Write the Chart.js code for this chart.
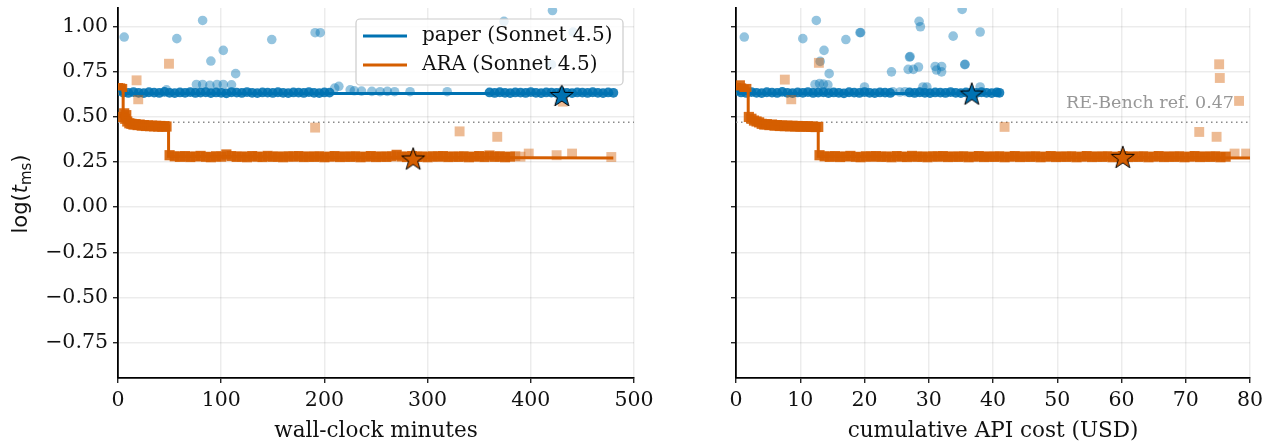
<!DOCTYPE html>
<html><head><meta charset="utf-8">
<script src="https://cdn.jsdelivr.net/npm/chart.js@4/dist/chart.umd.min.js"></script>
<style>
html,body{margin:0;padding:0;background:#fff;}
#wrap{position:relative;width:1269px;height:443px;overflow:hidden;}
#c1{position:absolute;left:0;top:0;}
#c2{position:absolute;left:670px;top:0;}
</style></head>
<body><div id="wrap"><canvas id="c1" width="670" height="443"></canvas><canvas id="c2" width="599" height="443"></canvas></div>
<script>
// ---------- data ----------
const Y_TICKS = [-0.75,-0.5,-0.25,0,0.25,0.5,0.75,1.0];
const X_TICKS_MIN = [0,100,200,300,400,500];
const X_TICKS_USD = [0,10,20,30,40,50,60,70,80];
const Y_RANGE = [-0.947, 1.104];
const REF_VALUE = 0.47;
const SERIES_NAMES = ['paper (Sonnet 4.5)','ARA (Sonnet 4.5)'];

// wall-clock minutes panel: paper (blue) evaluations
const MIN_PAPER_DENSE = [[0,0.645],[5,0.636],[10,0.633],[15,0.638],[20,0.634],[25,0.632],[30,0.637],[35,0.635],[40,0.633],[45,0.639],[50,0.634],[55,0.632],[60,0.636],[65,0.634],[70,0.638],[75,0.633],[80,0.635],[85,0.637],[90,0.632],[95,0.636],[100,0.634],[105,0.631],[110,0.637],[115,0.635],[120,0.633],[125,0.638],[130,0.634],[135,0.632],[140,0.636],[145,0.635],[150,0.633],[155,0.637],[160,0.634],[165,0.632],[170,0.636],[175,0.635],[180,0.633],[185,0.638],[190,0.634],[195,0.632],[200,0.636],[205,0.635],
[360,0.636],[365,0.633],[370,0.637],[375,0.634],[380,0.632],[385,0.636],[390,0.635],[395,0.633],[400,0.638],[405,0.634],[410,0.632],[415,0.636],[420,0.635],[425,0.633],[430,0.637],[435,0.634],[440,0.632],[445,0.636],[450,0.635],[455,0.633],[460,0.637],[465,0.634],[470,0.632],[475,0.636],[480,0.634]];
const MIN_PAPER_SPARSE = [[6,0.943],[57,0.934],[82,1.035],[90,0.81],[102,0.869],[114,0.74],[149,0.929],[191,0.967],[196,0.967],[374,1.03],[421,1.09],[420,0.79],[441,0.97],
[47,0.65],[76,0.68],[82,0.68],[89,0.675],[96,0.68],[102,0.68],[110,0.678],[210,0.66],[214,0.67],[225,0.65],[229,0.645],[236,0.643],[246,0.642],[254,0.64],[261,0.642],[268,0.64],[283,0.64],[319,0.64]];
const MIN_PAPER_BEST = [[0,0.645],[2,0.645],[2,0.63],[480,0.63]];
const MIN_PAPER_STAR = [[430,0.622]];

// wall-clock minutes panel: ARA (orange) evaluations
const MIN_ARA_DENSE = [[0,0.66],[1,0.65],[2,0.658],[3,0.652],[4,0.655],[6,0.52],[8,0.51],
[5,0.50],[7,0.49],[9,0.475],[11,0.465],[13,0.462],[15,0.458],[17,0.46],[19,0.455],[21,0.458],[23,0.452],[25,0.455],[27,0.45],[29,0.453],[31,0.449],[33,0.452],[35,0.448],[37,0.451],[39,0.447],[41,0.45],[43,0.446],[45,0.449],[47,0.447],
[50,0.288],[55,0.282],[60,0.279],[65,0.283],[70,0.278],[75,0.281],[80,0.284],[85,0.279],[90,0.277],[95,0.282],[100,0.28],[105,0.292],[110,0.283],[115,0.279],[120,0.281],[125,0.277],[130,0.283],[135,0.28],[140,0.278],[145,0.284],[150,0.279],[155,0.281],[160,0.277],[165,0.282],[170,0.28],[175,0.283],[180,0.278],[185,0.281],[190,0.279],[195,0.282],[200,0.277],[205,0.28],[210,0.283],[215,0.278],[220,0.281],[225,0.279],[230,0.282],[235,0.277],[240,0.28],[245,0.283],[250,0.278],[255,0.281],[260,0.279],[265,0.282],[270,0.29],[275,0.281],[280,0.278],[285,0.283],[290,0.279],[295,0.281],[300,0.277],[305,0.282],[310,0.28],[315,0.283],[320,0.278],[325,0.281],[330,0.279],[335,0.282],[340,0.277],[345,0.28],[350,0.283],[355,0.278],[360,0.286],[365,0.279],[370,0.282],[375,0.277],[380,0.28]];
const MIN_ARA_SPARSE = [[385,0.283],[390,0.28],[398,0.297],[425,0.288],[440,0.297],[478,0.278],
[49.4,0.795],[18,0.703],[19.6,0.598],[191,0.441],[331,0.42],[367.5,0.39],[431,0.585]];
const MIN_ARA_BEST = [[0,0.655],[5,0.655],[5,0.49],[8,0.475],[12,0.462],[25,0.455],[49,0.45],[49,0.282],[150,0.278],[480,0.272]];
const MIN_ARA_STAR = [[286,0.27]];

// cumulative API cost panel: paper (blue)
const USD_PAPER_DENSE = [[0,0.645],[0.8,0.636],[1.6,0.633],[2.4,0.638],[3.2,0.634],[4.0,0.632],[4.8,0.637],[5.6,0.635],[6.4,0.633],[7.2,0.639],[8.0,0.634],[8.8,0.632],[9.6,0.636],[10.4,0.634],[11.2,0.638],[12.0,0.633],[12.8,0.635],[13.6,0.637],[14.4,0.632],[15.2,0.636],[16.0,0.634],[16.8,0.631],[17.6,0.637],[18.4,0.635],[19.2,0.633],[20.0,0.638],[20.8,0.634],[21.6,0.632],[22.4,0.636],[23.2,0.635],[24.0,0.633],
[27.0,0.636],[27.8,0.633],[28.6,0.637],[29.4,0.634],[30.2,0.632],[31.0,0.636],[31.8,0.635],[32.6,0.633],[33.4,0.638],[34.2,0.634],[35.0,0.632],[35.8,0.636],[36.6,0.635],[37.4,0.633],[38.2,0.637],[39.0,0.634],[39.8,0.632],[40.6,0.636],[41.0,0.634]];
const USD_PAPER_SPARSE = [[1.29,0.943],[10.4,0.934],[12.5,1.035],[13.7,0.869],[13.1,0.808],[14.5,0.74],[17.1,0.929],[19.3,0.967],[19.4,0.968],[24.2,0.75],[27,0.832],[27.1,0.835],[26.8,0.764],[27.6,0.764],[28.4,0.777],[28.5,1.03],[28.7,1.0],[31,0.78],[32,0.78],[32,0.75],[31.2,0.76],[33.8,0.948],[35.2,1.096],[35.6,0.79],[35.65,0.792],[38,0.971],
[12.3,0.68],[13.0,0.685],[13.6,0.682],[14.3,0.678],[20.0,0.666],[24.4,0.64],[25.5,0.638],[26.3,0.64],[29.1,0.666],[29.7,0.666],[38,0.666]];
const USD_PAPER_BEST = [[0,0.645],[0.3,0.645],[0.3,0.63],[41,0.63]];
const USD_PAPER_STAR = [[36.7,0.63]];

// cumulative API cost panel: ARA (orange)
const USD_ARA_DENSE = [[0,0.66],[0.4,0.652],[0.6,0.675],[0.8,0.658],[1.2,0.65],[1.6,0.655],[2.0,0.5],[2.4,0.49],[2.8,0.48],[3.2,0.475],[3.6,0.47],
[4.0,0.462],[4.4,0.458],[4.8,0.46],[5.2,0.455],[5.6,0.458],[6.0,0.452],[6.4,0.455],[6.8,0.45],[7.2,0.453],[7.6,0.449],[8.0,0.452],[8.4,0.448],[8.8,0.451],[9.2,0.447],[9.6,0.45],[10.0,0.446],[10.4,0.449],[10.8,0.447],[11.2,0.448],[11.6,0.445],[12.0,0.447],[12.4,0.444],[12.8,0.445],
[13.0,0.288],[13.8,0.282],[14.6,0.279],[15.4,0.283],[16.2,0.278],[17.0,0.281],[17.8,0.284],[18.6,0.279],[19.4,0.277],[20.2,0.282],[21.0,0.28],[21.8,0.283],[22.6,0.279],[23.4,0.281],[24.2,0.277],[25.0,0.283],[25.8,0.28],[26.6,0.278],[27.4,0.284],[28.2,0.279],[29.0,0.281],[29.8,0.277],[30.6,0.282],[31.4,0.28],[32.2,0.283],[33.0,0.278],[33.8,0.281],[34.6,0.279],[35.4,0.282],[36.2,0.277],[37.0,0.28],[37.8,0.283],[38.6,0.278],[39.4,0.281],[40.2,0.279],[41.0,0.282],[41.8,0.277],[42.6,0.28],[43.4,0.283],[44.2,0.278],[45.0,0.281],[45.8,0.279],[46.6,0.282],[47.4,0.277],[48.2,0.28],[49.0,0.283],[49.8,0.278],[50.6,0.281],[51.4,0.279],[52.2,0.282],[53.0,0.277],[53.8,0.28],[54.6,0.283],[55.4,0.278],[56.2,0.281],[57.0,0.279],[57.8,0.282],[58.6,0.277],[59.4,0.28],[60.2,0.283],[61.0,0.278],[61.8,0.281],[62.6,0.279],[63.4,0.282],[64.2,0.277],[65.0,0.28],[65.8,0.283],[66.6,0.278],[67.4,0.281],[68.2,0.279],[69.0,0.282],[69.8,0.277],[70.6,0.28],[71.4,0.283],[72.2,0.278],[73.0,0.281],[73.8,0.279],[74.6,0.282],[75.4,0.277],[76.2,0.28]];
const USD_ARA_SPARSE = [[77.6,0.297],[79.4,0.297],
[7.6,0.707],[8.6,0.598],[12.9,0.80],[41.8,0.445],[75.2,0.792],[75.3,0.716],[78.3,0.589],[72.1,0.417],[74.8,0.39]];
const USD_ARA_BEST = [[0,0.655],[1.9,0.655],[1.9,0.49],[3.5,0.47],[6,0.46],[12.8,0.45],[12.8,0.282],[40,0.278],[80,0.272]];
const USD_ARA_STAR = [[60.2,0.279]];

// ---------- styling ----------
const BLUE = '#0072B2', ORANGE = '#D55E00';
const blueA = a => `rgba(0,114,178,${a})`;
const orangeA = a => `rgba(213,94,0,${a})`;
const SERIF = '"DejaVu Serif"';

function makeStar(fill, R){
  const c = document.createElement('canvas');
  const s = Math.ceil(2*R+4); c.width = s; c.height = s;
  const g = c.getContext('2d');
  g.translate(s/2, s/2 + R*0.1);
  g.beginPath();
  for (let i=0;i<10;i++){
    const r = i%2===0 ? R : R*0.4;
    const a = -Math.PI/2 + i*Math.PI/5;
    const px = r*Math.cos(a), py = r*Math.sin(a);
    i===0 ? g.moveTo(px,py) : g.lineTo(px,py);
  }
  g.closePath();
  g.fillStyle = fill; g.fill();
  g.lineWidth = 1; g.strokeStyle = '#000'; g.stroke();
  return c;
}
const STAR_BLUE = makeStar(BLUE, 12);
const STAR_ORANGE = makeStar(ORANGE, 12);

const pts = arr => arr.map(([x,y]) => ({x, y}));

function datasets(pDense, pSparse, pBest, pStar, aDense, aSparse, aBest, aStar, xMax){
  return [
    {data: pts([[0,REF_VALUE],[xMax,REF_VALUE]]), showLine:true, pointRadius:0, borderColor:'#8a8a8a', borderWidth:1.5, borderDash:[1.5,3.5], order:9, clip:0},
    {data: pts(pDense), pointStyle:'circle', pointRadius:4.9, backgroundColor:blueA(0.88), borderWidth:0, order:6, clip:0},
    {data: pts(pSparse), pointStyle:'circle', pointRadius:4.8, backgroundColor:blueA(0.42), borderWidth:0, order:5, clip:0},
    {data: pts(aDense), pointStyle:'rect', pointRadius:7.2, backgroundColor:orangeA(0.9), borderWidth:0, order:4, clip:0},
    {data: pts(aSparse), pointStyle:'rect', pointRadius:7, backgroundColor:orangeA(0.42), borderWidth:0, order:3, clip:0},
    {data: pts(pBest), showLine:true, pointRadius:0, borderColor:BLUE, borderWidth:3, order:2, clip:0},
    {data: pts(aBest), showLine:true, pointRadius:0, borderColor:ORANGE, borderWidth:3, order:1, clip:0},
    {data: pts(pStar), pointStyle:STAR_BLUE, pointRadius:12, order:0, clip:false},
    {data: pts(aStar), pointStyle:STAR_ORANGE, pointRadius:12, order:0, clip:false}
  ];
}

const fmtY = v => (v<0?'\u2212':'') + Math.abs(v).toFixed(2);
const zeroPad = s => { s.paddingTop = 0; s.paddingBottom = 0; s.paddingLeft = 0; s.paddingRight = 0; };

function scales(xTicks, xMax, yWidth, showY){
  const grid = {color:'rgba(0,0,0,0.075)', lineWidth:1.5, tickColor:'#000', tickLength:5, tickWidth:1.2};
  return {
    x: {type:'linear', min:0, max:xMax,
      afterBuildTicks: s => { s.ticks = xTicks.map(v => ({value:v})); },
      afterFit: s => { s.height = 65; zeroPad(s); },
      grid, border:{color:'#000', width:1.8},
      ticks:{font:{family:SERIF, size:20.5}, color:'#111', padding:5, maxRotation:0, autoSkip:false, callback: v => String(v)}},
    y: {type:'linear', min:Y_RANGE[0], max:Y_RANGE[1],
      afterBuildTicks: s => { s.ticks = Y_TICKS.map(v => ({value:v})); },
      afterFit: s => { s.width = yWidth; zeroPad(s); },
      grid, border:{color:'#000', width:1.8},
      ticks:{font:{family:SERIF, size:20.5}, color:'#111', padding:5, autoSkip:false, callback: v => showY ? fmtY(v) : ''}}
  };
}

function drawXTitle(chart, text){
  const ctx = chart.ctx, a = chart.chartArea;
  ctx.save();
  ctx.font = `21.5px ${SERIF}`; ctx.fillStyle = '#111';
  ctx.textAlign = 'center'; ctx.textBaseline = 'middle';
  ctx.fillText(text, (a.left+a.right)/2, 431);
  ctx.restore();
}

const leftDecor = {
  id:'leftDecor',
  afterDraw(chart){
    const ctx = chart.ctx;
    drawXTitle(chart, 'wall-clock minutes');
    // y title log(t_ms)
    ctx.save();
    ctx.translate(20, 194);
    ctx.rotate(-Math.PI/2);
    ctx.fillStyle = '#111';
    ctx.textBaseline = 'alphabetic';
    const parts = [['log(', '21px "DejaVu Sans"', 0], ['t', 'italic 21px "DejaVu Sans"', 0], ['ms', '15px "DejaVu Sans"', 4], [')', '21px "DejaVu Sans"', 0]];
    let total = 0;
    parts.forEach(p => { ctx.font = p[1]; p.push(ctx.measureText(p[0]).width); total += p[3]; });
    let x = -total/2;
    parts.forEach(p => { ctx.font = p[1]; ctx.fillText(p[0], x, 7 + p[2]); x += p[3]; });
    ctx.restore();
    // legend
    ctx.save();
    const bx = 356, by = 19, bw = 267, bh = 66, r = 4;
    ctx.beginPath();
    ctx.moveTo(bx+r, by); ctx.lineTo(bx+bw-r, by); ctx.arcTo(bx+bw, by, bx+bw, by+r, r);
    ctx.lineTo(bx+bw, by+bh-r); ctx.arcTo(bx+bw, by+bh, bx+bw-r, by+bh, r);
    ctx.lineTo(bx+r, by+bh); ctx.arcTo(bx, by+bh, bx, by+bh-r, r);
    ctx.lineTo(bx, by+r); ctx.arcTo(bx, by, bx+r, by, r);
    ctx.closePath();
    ctx.fillStyle = 'rgba(255,255,255,0.8)'; ctx.fill();
    ctx.strokeStyle = '#cccccc'; ctx.lineWidth = 1.2; ctx.stroke();
    const rows = [[SERIES_NAMES[0], BLUE, 36], [SERIES_NAMES[1], ORANGE, 65]];
    rows.forEach(([t, c, y]) => {
      ctx.beginPath(); ctx.moveTo(363, y); ctx.lineTo(407, y);
      ctx.strokeStyle = c; ctx.lineWidth = 3; ctx.stroke();
      ctx.font = `20px ${SERIF}`; ctx.fillStyle = '#111';
      ctx.textAlign = 'left'; ctx.textBaseline = 'middle';
      ctx.fillText(t, 422, y);
    });
    ctx.restore();
  }
};

const rightDecor = {
  id:'rightDecor',
  afterDraw(chart){
    const ctx = chart.ctx;
    drawXTitle(chart, 'cumulative API cost (USD)');
    ctx.save();
    ctx.font = `17.5px ${SERIF}`; ctx.fillStyle = '#979797';
    ctx.textAlign = 'right'; ctx.textBaseline = 'middle';
    ctx.fillText('RE-Bench ref. ' + REF_VALUE.toFixed(2), 1234-670, 103);
    ctx.restore();
  }
};

const common = {
  responsive:false, maintainAspectRatio:false, animation:false,
  plugins:{legend:{display:false}, tooltip:{enabled:false}},
  events:[]
};

new Chart(document.getElementById('c1'), {
  type:'scatter',
  data:{datasets: datasets(MIN_PAPER_DENSE, MIN_PAPER_SPARSE, MIN_PAPER_BEST, MIN_PAPER_STAR, MIN_ARA_DENSE, MIN_ARA_SPARSE, MIN_ARA_BEST, MIN_ARA_STAR, 500)},
  options:Object.assign({}, common, {
    layout:{autoPadding:false, padding:{top:8, right:36, left:0, bottom:0}},
    scales: scales(X_TICKS_MIN, 500, 118, true)
  }),
  plugins:[leftDecor]
});

new Chart(document.getElementById('c2'), {
  type:'scatter',
  data:{datasets: datasets(USD_PAPER_DENSE, USD_PAPER_SPARSE, USD_PAPER_BEST, USD_PAPER_STAR, USD_ARA_DENSE, USD_ARA_SPARSE, USD_ARA_BEST, USD_ARA_STAR, 80)},
  options:Object.assign({}, common, {
    layout:{autoPadding:false, padding:{top:8, right:19, left:0, bottom:0}},
    scales: scales(X_TICKS_USD, 80, 66, false)
  }),
  plugins:[rightDecor]
});
</script>
</body></html>
